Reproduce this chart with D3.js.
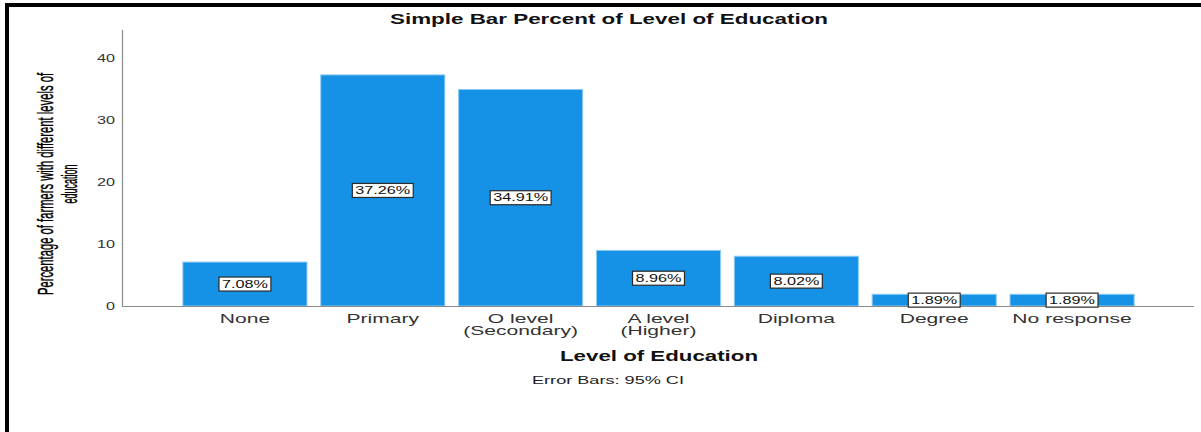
<!DOCTYPE html>
<html><head><meta charset="utf-8">
<script src="https://cdn.jsdelivr.net/npm/d3@7"></script>
<style>html,body{margin:0;padding:0;background:#fff;}svg{display:block;}</style>
</head><body>
<svg id="chart" width="1201" height="432"></svg>
<script>
const categories = ["None", "Primary", "O level\n(Secondary)", "A level\n(Higher)", "Diploma", "Degree", "No response"];
const values = [7.08, 37.26, 34.91, 8.96, 8.02, 1.89, 1.89];
const valueLabels = ["7.08%", "37.26%", "34.91%", "8.96%", "8.02%", "1.89%", "1.89%"];
const yTicks = [0, 10, 20, 30, 40];
const title = "Simple Bar Percent of Level of Education";
const xTitle = "Level of Education";
const yTitleLines = ["Percentage of farmers with different levels of", "education"];
const footnote = "Error Bars: 95% CI";

const svg = d3.select("#chart");
const SX = 1.62; // horizontal stretch of text
const font = "'Liberation Sans', Arial, sans-serif";

// frame
svg.append("rect").attr("x", 0).attr("y", 0).attr("width", 1201).attr("height", 432).attr("fill", "#fff");
svg.append("rect").attr("x", 5).attr("y", 3).attr("width", 1196).attr("height", 4).attr("fill", "#000");
svg.append("rect").attr("x", 5).attr("y", 3).attr("width", 4).attr("height", 429).attr("fill", "#000");

const x = d3.scaleBand().domain(categories).range([176, 1141]).paddingInner(0.1).paddingOuter(0.05);
const y = d3.scaleLinear().domain([0, 44.5]).range([306, 30]);

// bars
svg.append("g").selectAll("rect").data(values).join("rect")
  .attr("x", (d, i) => x(categories[i]))
  .attr("y", d => y(d))
  .attr("width", x.bandwidth())
  .attr("height", d => y(0) - y(d))
  .attr("fill", "#1591e6")
  .attr("stroke", "#8ccaf3")
  .attr("stroke-width", 1);

// axes lines
svg.append("line").attr("x1", 122.5).attr("x2", 122.5).attr("y1", 30).attr("y2", 306).attr("stroke", "#8a8a8a").attr("stroke-width", 1.2);
svg.append("line").attr("x1", 122).attr("x2", 1194).attr("y1", 306.5).attr("y2", 306.5).attr("stroke", "#8a8a8a").attr("stroke-width", 1.2);

// y axis ticks
const yAxis = svg.append("g").attr("transform", "translate(122,0)")
  .call(d3.axisLeft(y).tickValues(yTicks).tickSize(0).tickPadding(0).tickFormat(d3.format("d")));
yAxis.select(".domain").remove();
yAxis.selectAll("text")
  .attr("x", 0).attr("dy", "0.35em")
  .attr("transform", `translate(-7,0) scale(${SX},1)`)
  .attr("font-family", font).attr("font-size", 10).attr("fill", "#333");

// x axis ticks
const xAxis = svg.append("g").attr("transform", "translate(0,306)")
  .call(d3.axisBottom(x).tickSize(0).tickPadding(0));
xAxis.select(".domain").remove();
xAxis.selectAll("text").each(function(d) {
  const t = d3.select(this);
  t.text(null).attr("y", 0).attr("dy", null)
   .attr("transform", `scale(${SX},1)`)
   .attr("font-family", font).attr("font-size", 13).attr("fill", "#333");
  d.split("\n").forEach((line, k) => {
    t.append("tspan").attr("x", 0).attr("y", 17 + k * 12.5).text(line);
  });
});

// value labels
const lab = svg.append("g").selectAll("g").data(values).join("g")
  .attr("transform", (d, i) => `translate(${x(categories[i]) + x.bandwidth() / 2},${(y(d) + y(0)) / 2})`);
lab.each(function(d, i) {
  const g = d3.select(this);
  const r = g.append("rect").attr("fill", "#fff").attr("stroke", "#2a2a2a").attr("stroke-width", 1.2);
  const t = g.append("text").attr("text-anchor", "middle").attr("dy", "0.36em")
    .attr("transform", `scale(${SX},1)`)
    .attr("font-family", font).attr("font-size", 10).attr("fill", "#111")
    .text(valueLabels[i]);
  const w = t.node().getComputedTextLength() * SX + 6;
  r.attr("x", -w / 2).attr("y", -7).attr("width", w).attr("height", 14);
});

// title
svg.append("text").attr("x", 609).attr("y", 24).attr("text-anchor", "middle")
  .attr("font-family", font).attr("font-weight", "bold").attr("font-size", 14)
  .attr("textLength", 438).attr("lengthAdjust", "spacingAndGlyphs")
  .attr("fill", "#111").text(title);

// x title
svg.append("text").attr("x", 659).attr("y", 361).attr("text-anchor", "middle")
  .attr("font-family", font).attr("font-weight", "bold").attr("font-size", 14)
  .attr("textLength", 198).attr("lengthAdjust", "spacingAndGlyphs")
  .attr("fill", "#111").text(xTitle);

// footnote
svg.append("text").attr("x", 608).attr("y", 384).attr("text-anchor", "middle")
  .attr("font-family", font).attr("font-size", 11)
  .attr("textLength", 152).attr("lengthAdjust", "spacingAndGlyphs")
  .attr("fill", "#222").text(footnote);

// y title (rotated, condensed)
const yt = [[53, 222], [77, 39]];
yTitleLines.forEach((line, k) => {
  svg.append("text")
    .attr("transform", `translate(${yt[k][0]},184) scale(1.75,1) rotate(-90)`)
    .attr("text-anchor", "middle")
    .attr("font-family", "'Liberation Sans Narrow', 'Liberation Sans', Arial, sans-serif")
    .attr("font-size", 12.5)
    .attr("stroke", "#000").attr("stroke-width", 0.25)
    .attr("textLength", yt[k][1]).attr("lengthAdjust", "spacingAndGlyphs")
    .attr("fill", "#000").text(line);
});
</script>
</body></html>
